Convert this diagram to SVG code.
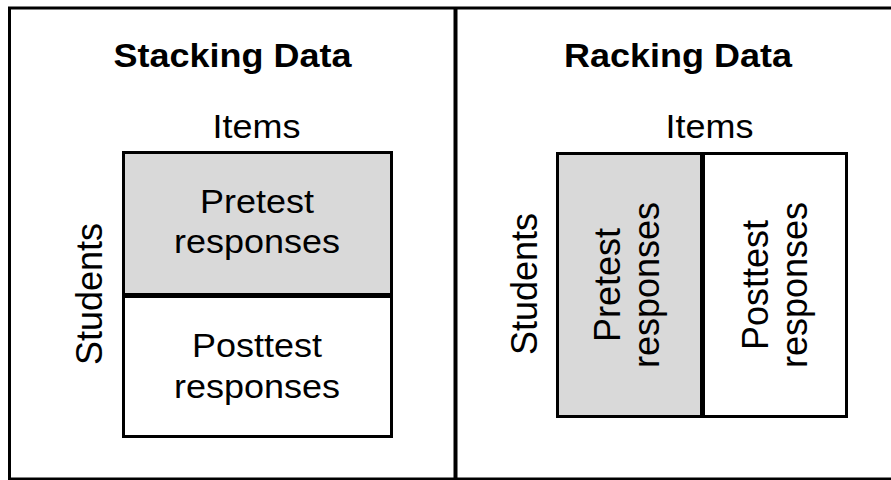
<svg xmlns="http://www.w3.org/2000/svg" width="891" height="480" viewBox="0 0 891 480">
  <style>
    .frame { fill: none; stroke: #000; stroke-width: 3; }
    .cell { stroke: #000; stroke-width: 3; }
    .pre { fill: #d9d9d9; }
    .post { fill: #fff; }
    .split { stroke: #000; stroke-width: 5; }
    text { font-family: "Liberation Sans", Arial, sans-serif; font-size: 36px; fill: #000; text-anchor: middle; }
    .title { font-weight: bold; }
  </style>
  <rect width="891" height="480" fill="#fff"/>

  <!-- outer frame and panel divider -->
  <g id="frame">
    <rect class="frame" x="9.5" y="8" width="890" height="471"/>
    <line x1="455.5" y1="8" x2="455.5" y2="480" stroke="#000" stroke-width="4"/>
  </g>

  <!-- left panel: stacked layout -->
  <g id="stacking">
    <text class="title" transform="translate(232.5,67) scale(1,0.9)">Stacking Data</text>
    <text transform="translate(256.5,137.5) scale(1,0.9)">Items</text>
    <text transform="translate(101.5,294) rotate(-90)">Students</text>
    <g id="stack-pretest">
      <rect class="cell pre" x="123.5" y="152.5" width="268" height="143"/>
      <text transform="translate(257,212.5) scale(1,0.9)">Pretest</text>
      <text transform="translate(257,253) scale(1,0.9)">responses</text>
    </g>
    <g id="stack-posttest">
      <rect class="cell post" x="123.5" y="295.5" width="268" height="141"/>
      <text transform="translate(257,357) scale(1,0.9)">Posttest</text>
      <text transform="translate(257,397.5) scale(1,0.9)">responses</text>
    </g>
    <line class="split" x1="122" y1="295.5" x2="393" y2="295.5"/>
  </g>

  <!-- right panel: racked layout -->
  <g id="racking">
    <text class="title" transform="translate(678,67) scale(1,0.9)">Racking Data</text>
    <text transform="translate(709.5,137.5) scale(1,0.9)">Items</text>
    <text transform="translate(537,284) rotate(-90)">Students</text>
    <g id="rack-pretest">
      <rect class="cell pre" x="557.5" y="153.5" width="145" height="263"/>
      <text transform="translate(620,285) rotate(-90)">Pretest</text>
      <text transform="translate(659,285) rotate(-90)">responses</text>
    </g>
    <g id="rack-posttest">
      <rect class="cell post" x="702.5" y="153.5" width="144" height="263"/>
      <text transform="translate(768,285) rotate(-90)">Posttest</text>
      <text transform="translate(807,285) rotate(-90)">responses</text>
    </g>
    <line class="split" x1="702.5" y1="152" x2="702.5" y2="418"/>
  </g>
</svg>
